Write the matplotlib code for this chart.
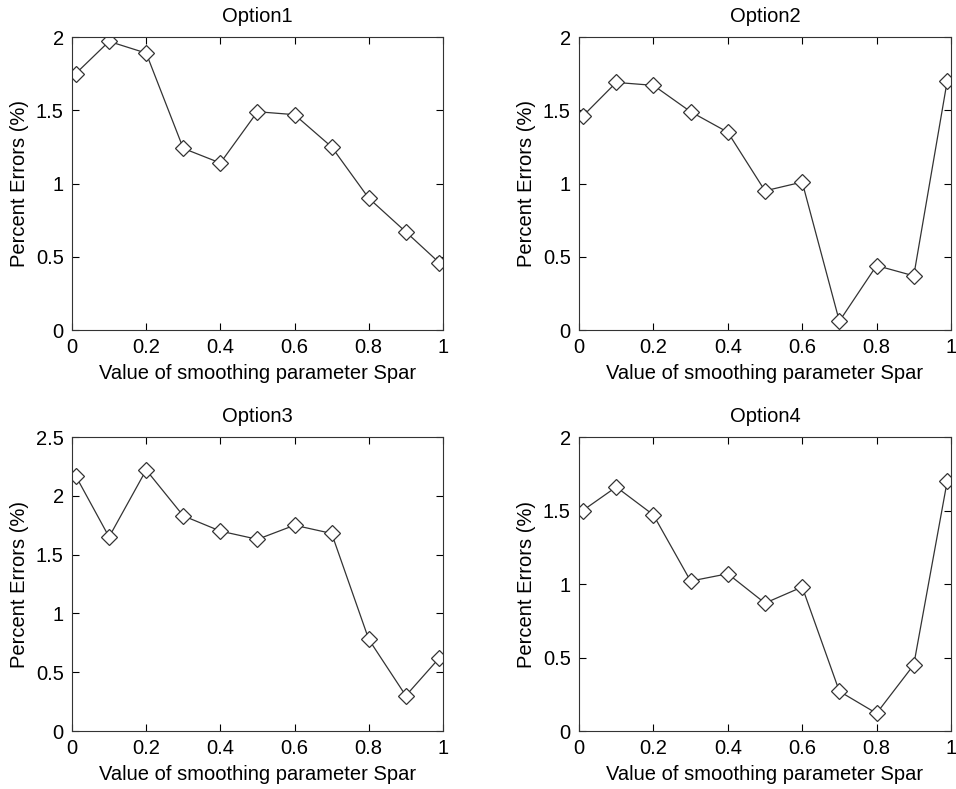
import matplotlib
matplotlib.use('Agg')
import matplotlib.pyplot as plt
from matplotlib.ticker import FuncFormatter

plt.rcParams['font.family'] = ['Liberation Sans', 'DejaVu Sans']

# smoothing parameter values
spar = [0.01, 0.1, 0.2, 0.3, 0.4, 0.5, 0.6, 0.7, 0.8, 0.9, 0.99]

option1 = [1.75, 1.97, 1.89, 1.24, 1.14, 1.49, 1.47, 1.25, 0.90, 0.67, 0.46]
option2 = [1.46, 1.69, 1.67, 1.49, 1.35, 0.95, 1.01, 0.06, 0.44, 0.37, 1.70]
option3 = [2.17, 1.65, 2.22, 1.83, 1.70, 1.63, 1.75, 1.68, 0.78, 0.30, 0.62]
option4 = [1.50, 1.66, 1.47, 1.02, 1.07, 0.87, 0.98, 0.27, 0.12, 0.45, 1.70]

titles = ['Option1', 'Option2', 'Option3', 'Option4']
series = [option1, option2, option3, option4]
ymax = [2, 2, 2.5, 2]

fig = plt.figure(figsize=(9.56, 7.89), dpi=100)

# axes boxes: left, bottom, width, height
boxes = [[0.0753, 0.5817, 0.388, 0.3714],
         [0.6057, 0.5817, 0.389, 0.3714],
         [0.0753, 0.0735, 0.388, 0.3726],
         [0.6057, 0.0735, 0.389, 0.3726]]

fs = 14.5
fmt = FuncFormatter(lambda v, p: '%g' % v)

for box, title, vals, ym in zip(boxes, titles, series, ymax):
    ax = fig.add_axes(box)
    ax.plot(spar, vals, color='#333333', lw=0.9, marker='D', markersize=8,
            markerfacecolor='white', markeredgecolor='#333333', markeredgewidth=0.9)
    ax.set_xlim(0, 1)
    ax.set_ylim(0, ym)
    ax.set_xticks([0, 0.2, 0.4, 0.6, 0.8, 1])
    ax.set_yticks([i * 0.5 for i in range(int(ym / 0.5) + 1)])
    ax.xaxis.set_major_formatter(fmt)
    ax.yaxis.set_major_formatter(fmt)
    ax.tick_params(direction='in', top=True, right=True, labelsize=fs, length=5, width=0.8, pad=6)
    for s in ax.spines.values():
        s.set_linewidth(0.8)
        s.set_color('#333333')
    ax.set_title(title, fontsize=fs, pad=11)
    ax.set_xlabel('Value of smoothing parameter Spar', fontsize=fs, labelpad=5)
    ax.set_ylabel('Percent Errors (%)', fontsize=fs, labelpad=5)

fig.savefig('out.png', dpi=100, facecolor='white')
